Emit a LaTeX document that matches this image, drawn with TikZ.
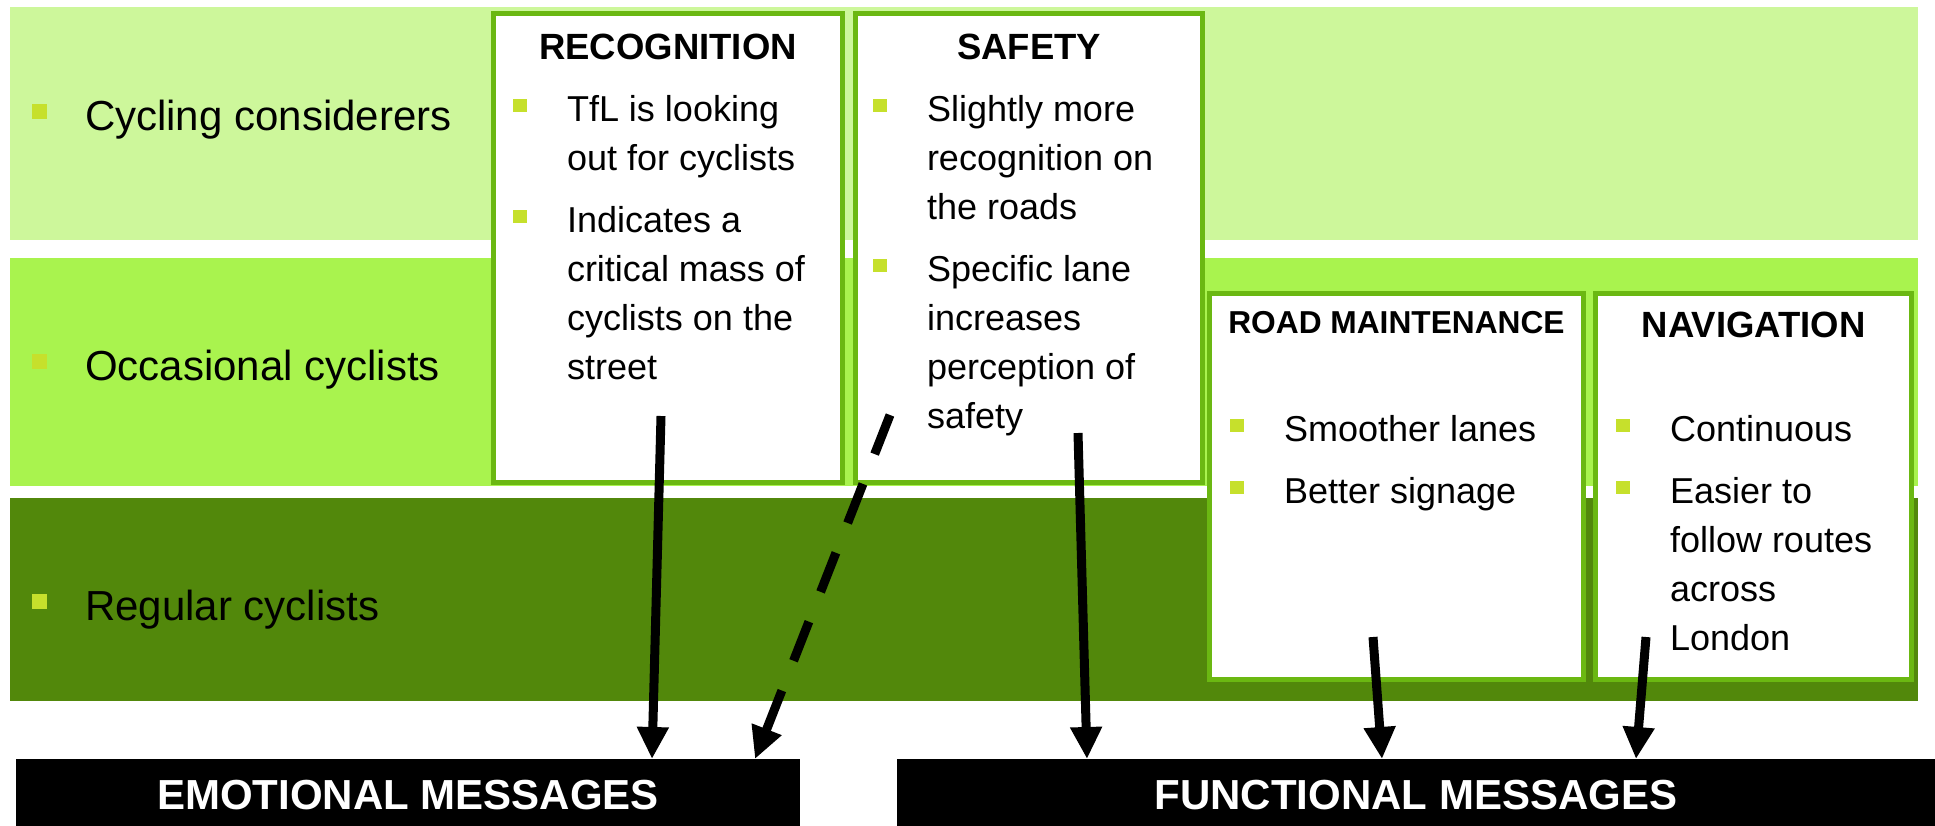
\documentclass[tikz,border=0pt]{standalone}
\usepackage{fontspec}
\setmainfont{Liberation Sans}
\usepackage{xcolor}
\usepackage{tikz}
\definecolor{palegreen}{HTML}{CDF79B}
\definecolor{limegreen}{HTML}{A9F34E}
\definecolor{darkgreen}{HTML}{52880B}
\definecolor{borderg}{HTML}{6BB812}
\definecolor{bulletlime}{HTML}{C6E02C}
\usetikzlibrary{arrows.meta, positioning}

\newcommand{\levelmark}{\makebox[53pt][l]{\raisebox{11pt}{\textcolor{bulletlime}{\rule{15pt}{15pt}}}}}
\newcommand{\pointitem}[1]{\makebox[54pt][l]{\raisebox{9pt}{\textcolor{bulletlime}{\rule{13.5pt}{13.5pt}}}}\begin{tabular}[t]{@{}l@{}}#1\end{tabular}}

\begin{document}
\begin{tikzpicture}[
        x=1pt, y=-1pt,
        every node/.style={inner sep=0pt, outer sep=0pt},
        band/.style={rectangle, anchor=north west, minimum width=1908pt},
        msgbox/.style={rectangle, draw=borderg, line width=5pt, fill=white, anchor=north west},
        boxtitle/.style={anchor=base, font=\bfseries\fontsize{36.5}{44}\selectfont},
        point/.style={anchor=north west, font=\fontsize{36}{49}\selectfont},
        level/.style={anchor=base west, font=\fontsize{42}{50}\selectfont},
        msgbar/.style={rectangle, fill=black, text=white, anchor=north west, minimum height=72pt, font=\bfseries\fontsize{42}{50}\selectfont},
        arrow/.style={line width=9pt, -{Triangle[width=30pt,length=32pt]}},
        dasharrow/.style={arrow, dash pattern=on 42pt off 32pt}
    ]

        \path[use as bounding box, fill=white] (0,0) rectangle (1935,825);

        \node[band, fill=palegreen, minimum height=233pt] (considerers) at (10,7) {};
        \node[band, fill=limegreen, minimum height=228pt] (occasional) at (10,258) {};
        \node[band, fill=darkgreen, minimum height=203pt] (regular) at (10,498) {};

        \node[level] (considerersL) at (32,130) {\levelmark Cycling considerers};
        \node[level] (occasionalL) at (32,380) {\levelmark Occasional cyclists};
        \node[level] (regularL) at (32,620) {\levelmark Regular cyclists};

        \node[msgbox, minimum width=349pt, minimum height=469pt] (recog) at (493.5,13.5) {};
        \node[msgbox, minimum width=347pt, minimum height=469pt] (safety) at (855.5,13.5) {};
        \node[msgbox, minimum width=374pt, minimum height=386pt] (road) at (1209.5,293.5) {};
        \node[msgbox, minimum width=316pt, minimum height=386pt] (navig) at (1595.5,293.5) {};

        \node[boxtitle] (recogT) at ([yshift=-45.5pt]recog.north) {RECOGNITION};
        \node[point, anchor=base west] (recog1) at ([shift={(19.5pt,-107.5pt)}]recog.north west) {\pointitem{TfL is looking\\out for cyclists}};
        \node[point, below=13pt of recog1.south west, anchor=north west] (recog2) {\pointitem{Indicates a\\critical mass of\\cyclists on the\\street}};

        \node[boxtitle] (safetyT) at ([yshift=-45.5pt]safety.north) {SAFETY};
        \node[point, anchor=base west] (safety1) at ([shift={(17.5pt,-107.5pt)}]safety.north west) {\pointitem{Slightly more\\recognition on\\the roads}};
        \node[point, below=13pt of safety1.south west, anchor=north west] (safety2) {\pointitem{Specific lane\\increases\\perception of\\safety}};

        \node[boxtitle, font=\bfseries\fontsize{31.7}{38}\selectfont] (roadT) at ([yshift=-39.5pt]road.north) {ROAD MAINTENANCE};
        \node[point, anchor=base west] (road1) at ([shift={(20.5pt,-147.5pt)}]road.north west) {\pointitem{Smoother lanes}};
        \node[point, below=13pt of road1.south west, anchor=north west] (road2) {\pointitem{Better signage}};

        \node[boxtitle] (navigT) at ([yshift=-43.5pt]navig.north) {NAVIGATION};
        \node[point, anchor=base west] (navig1) at ([shift={(20.5pt,-147.5pt)}]navig.north west) {\pointitem{Continuous}};
        \node[point, below=13pt of navig1.south west, anchor=north west] (navig2) {\pointitem{Easier to\\follow routes\\across\\London}};

        \node[msgbar, minimum width=784pt] (emotional) at (16,759) {EMOTIONAL MESSAGES};
        \node[msgbar, minimum width=1038pt] (functional) at (897,759) {FUNCTIONAL MESSAGES};

        \coordinate (recogTail) at (661,416);
        \coordinate (safetyDashTail) at (890,415);
        \coordinate (safetyTail) at (1078,433);
        \coordinate (roadTail) at (1373,637);
        \coordinate (navigTail) at (1646,637);

        \draw[arrow] (recogTail) -- ([xshift=636pt]emotional.north west);
        \draw[dasharrow] (safetyDashTail) -- ([xshift=739pt]emotional.north west);
        \draw[arrow] (safetyTail) -- ([xshift=190pt]functional.north west);
        \draw[arrow] (roadTail) -- ([xshift=485pt]functional.north west);
        \draw[arrow] (navigTail) -- ([xshift=739pt]functional.north west);

    \end{tikzpicture}
\end{document}
